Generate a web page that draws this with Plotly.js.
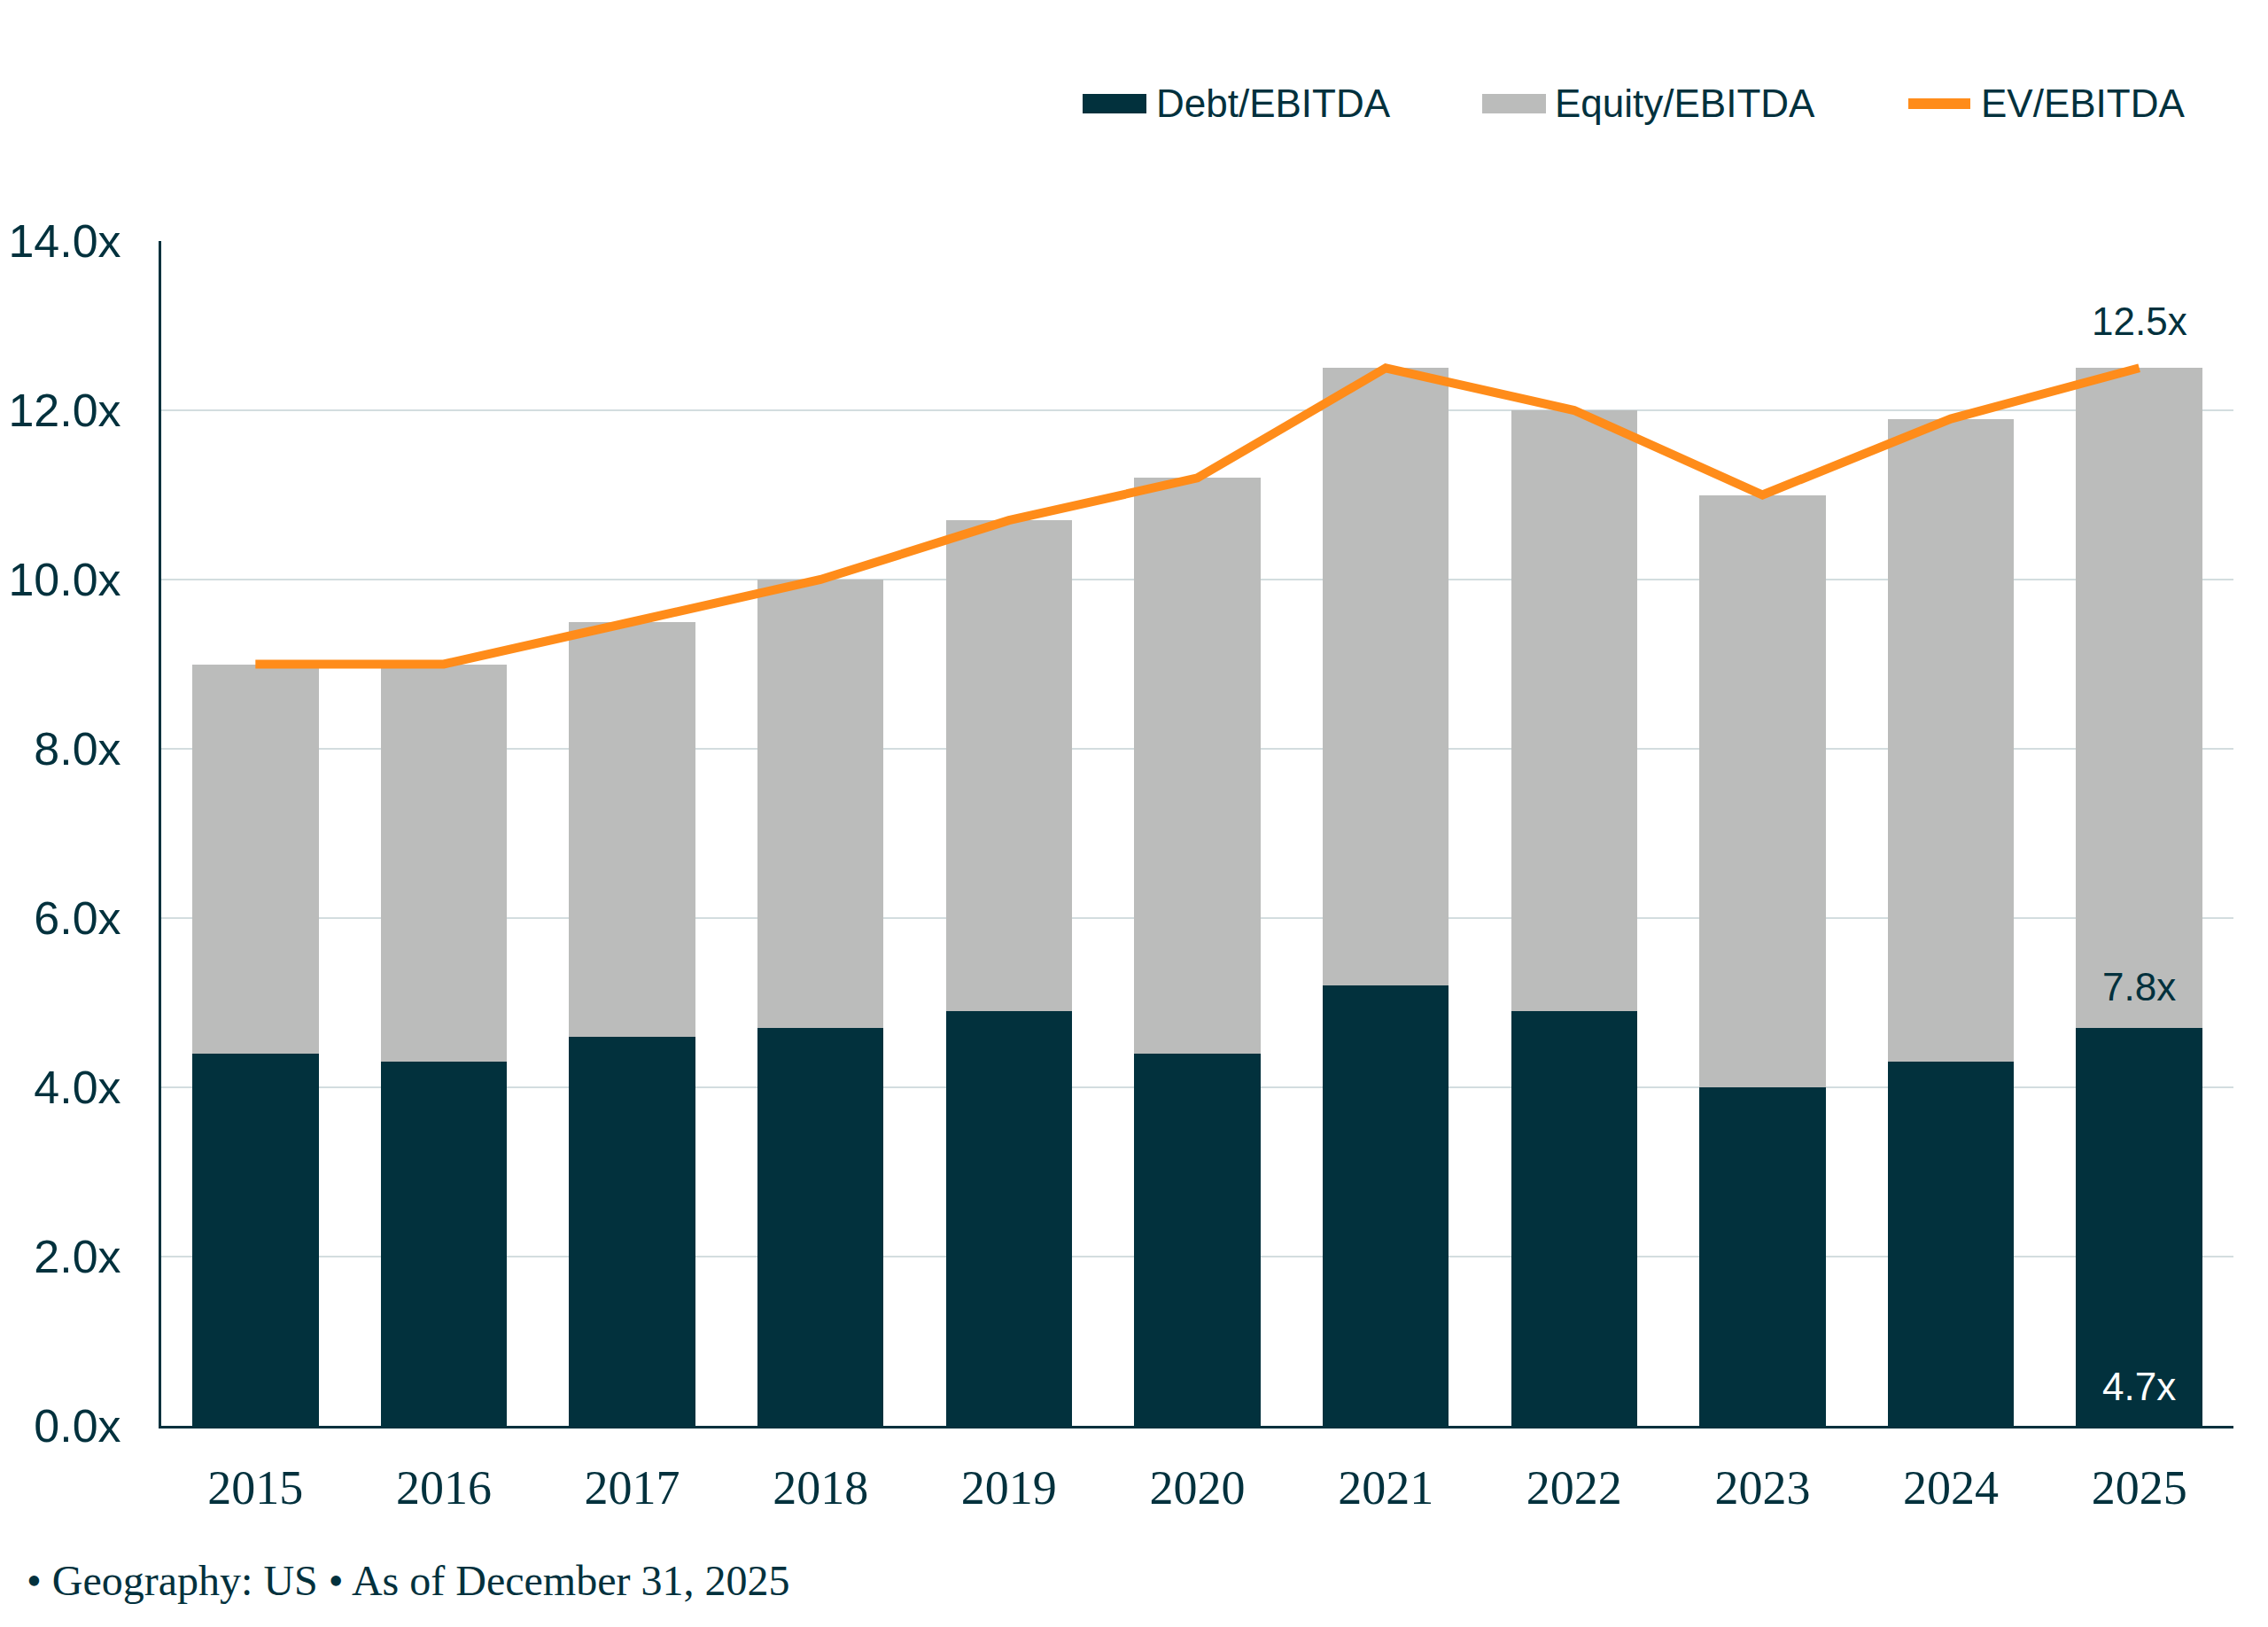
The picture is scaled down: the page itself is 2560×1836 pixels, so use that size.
<!DOCTYPE html>
<html>
<head>
<meta charset="utf-8">
<script src="https://cdn.plot.ly/plotly-3.0.1.min.js"></script>
<style>
  html, body { margin: 0; padding: 0; background: #fff; }
  #chart { width: 2560px; height: 1836px; }
</style>
</head>
<body>
<div id="chart"></div>
<script>
const years = ['2015', '2016', '2017', '2018', '2019', '2020', '2021', '2022', '2023', '2024', '2025'];
const debt = [4.4, 4.3, 4.6, 4.7, 4.9, 4.4, 5.2, 4.9, 4.0, 4.3, 4.7];
const equity = [4.6, 4.7, 4.9, 5.3, 5.8, 6.8, 7.3, 7.1, 7.0, 7.6, 7.8];
const ev = [9.0, 9.0, 9.5, 10.0, 10.7, 11.2, 12.5, 12.0, 11.0, 11.9, 12.5];
const yTicks = [0, 2, 4, 6, 8, 10, 12, 14];

const dark = '#02313D';
const grey = '#BBBCBB';
const orange = '#FF8C1A';

// plot box in pixels
const W = 2560, H = 1836;
const L = 182, R = 2521, T = 272, B = 1609;
const px = x => (x - L) / (R - L);
const py = y => (B - y) / (B - T);

const last = years.length - 1;
const fmt = v => v.toFixed(1) + 'x';

const traceDebt = {
  x: years, y: debt, type: 'bar', name: 'Debt/EBITDA',
  marker: {color: dark}, hoverinfo: 'skip'
};
const traceEquity = {
  x: years, y: equity, type: 'bar', name: 'Equity/EBITDA',
  marker: {color: grey}, hoverinfo: 'skip'
};
const traceEv = {
  x: years, y: ev, type: 'scatter', mode: 'lines', name: 'EV/EBITDA',
  line: {color: orange, width: 10}, hoverinfo: 'skip'
};

// legend drawn by hand so the keys can be the same size as the original
const legendY = 117;
const shapes = [
  {type: 'rect', xref: 'paper', yref: 'paper', x0: px(1222), x1: px(1294), y0: py(legendY + 11), y1: py(legendY - 11),
   fillcolor: dark, line: {width: 0}},
  {type: 'rect', xref: 'paper', yref: 'paper', x0: px(1673), x1: px(1745), y0: py(legendY + 11), y1: py(legendY - 11),
   fillcolor: grey, line: {width: 0}},
  {type: 'line', xref: 'paper', yref: 'paper', x0: px(2154), x1: px(2224), y0: py(legendY), y1: py(legendY),
   line: {color: orange, width: 12}}
];

const sans = 'Liberation Sans, Arial';
const legendFont = {family: sans, size: 44, color: dark};
const labelFont = {family: sans, size: 44, color: dark};
const annotations = [
  {xref: 'paper', yref: 'paper', x: px(1303), y: py(legendY), xanchor: 'left', yanchor: 'middle',
   text: 'Debt/EBITDA', showarrow: false, font: legendFont},
  {xref: 'paper', yref: 'paper', x: px(1753), y: py(legendY), xanchor: 'left', yanchor: 'middle',
   text: 'Equity/EBITDA', showarrow: false, font: legendFont},
  {xref: 'paper', yref: 'paper', x: px(2234), y: py(legendY), xanchor: 'left', yanchor: 'middle',
   text: 'EV/EBITDA', showarrow: false, font: legendFont},
  // value labels for the last year (category axis: position by index)
  {x: last, y: ev[last], xref: 'x', yref: 'y', xanchor: 'center', yanchor: 'bottom', yshift: 26,
   text: fmt(ev[last]), showarrow: false, font: labelFont},
  {x: last, y: debt[last], xref: 'x', yref: 'y', xanchor: 'center', yanchor: 'bottom', yshift: 20,
   text: fmt(equity[last]), showarrow: false, font: labelFont},
  {x: last, y: 0, xref: 'x', yref: 'y', xanchor: 'center', yanchor: 'bottom', yshift: 18,
   text: fmt(debt[last]), showarrow: false, font: {family: sans, size: 44, color: '#ffffff'}},
  {xref: 'paper', yref: 'paper', x: px(28), y: py(1783), xanchor: 'left', yanchor: 'middle',
   text: '• Geography: US • As of December 31, 2025', showarrow: false,
   font: {family: 'Liberation Serif, Times New Roman', size: 48, color: dark}}
];

const layout = {
  width: W, height: H,
  margin: {l: L, r: W - R, t: T, b: H - B, pad: 0},
  paper_bgcolor: '#ffffff',
  plot_bgcolor: '#ffffff',
  barmode: 'stack',
  bargap: 0.33,
  showlegend: false,
  xaxis: {
    type: 'category',
    range: [-0.5, years.length - 0.5],
    showline: true, linecolor: dark, linewidth: 3,
    ticks: '', showgrid: false,
    tickfont: {family: 'Liberation Serif, Times New Roman', size: 54, color: dark},
    ticklabelstandoff: 20
  },
  yaxis: {
    range: [0, 14], tickvals: yTicks,
    ticktext: yTicks.map(fmt),
    showline: true, linecolor: dark, linewidth: 3,
    showgrid: true, gridcolor: '#D3DDDF', gridwidth: 2,
    zeroline: false, ticks: '',
    tickfont: {family: sans, size: 52, color: dark},
    ticklabelstandoff: 32
  },
  shapes: shapes,
  annotations: annotations
};

Plotly.newPlot('chart', [traceDebt, traceEquity, traceEv], layout, {staticPlot: true});
</script>
</body>
</html>
